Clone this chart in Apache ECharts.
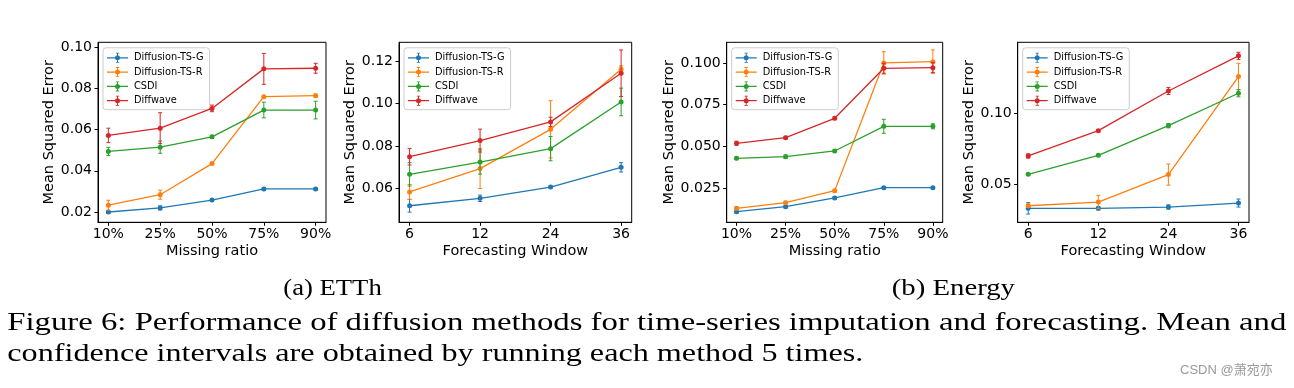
<!DOCTYPE html>
<html>
<head>
<meta charset="utf-8">
<script src="https://cdn.jsdelivr.net/npm/echarts@6/dist/echarts.min.js"></script>
<style>
html,body{margin:0;padding:0;background:#fff;}
#chart{width:1294px;height:388px;}
</style>
</head>
<body>
<div id="chart"></div>
<script>
// ---------------- data ----------------
const methods = ['Diffusion-TS-G', 'Diffusion-TS-R', 'CSDI', 'Diffwave'];
const missingRatio = ['10%', '25%', '50%', '75%', '90%'];
const forecastWindow = ['6', '12', '24', '36'];

// (a) ETTh – imputation (Missing ratio)
const ettImpG      = [0.0200, 0.0220, 0.0258, 0.0312, 0.0312];
const ettImpGErr   = [0.0006, 0.0010, 0.0005, 0.0006, 0.0005];
const ettImpR      = [0.0233, 0.0284, 0.0435, 0.0760, 0.0765];
const ettImpRErr   = [0.0024, 0.0022, 0.0004, 0.0005, 0.0008];
const ettImpCSDI   = [0.0494, 0.0515, 0.0565, 0.0695, 0.0695];
const ettImpCSDIErr= [0.0020, 0.0030, 0.0007, 0.0038, 0.0043];
const ettImpDW     = [0.0572, 0.0607, 0.0703, 0.0895, 0.0898];
const ettImpDWErr  = [0.0035, 0.0075, 0.0016, 0.0075, 0.0024];

// (a) ETTh – forecasting (Forecasting Window)
const ettFcG       = [0.0518, 0.0553, 0.0606, 0.0699];
const ettFcGErr    = [0.0030, 0.0015, 0.0005, 0.0022];
const ettFcR       = [0.0583, 0.0693, 0.0878, 0.1161];
const ettFcRErr    = [0.0035, 0.0094, 0.0135, 0.0016];
const ettFcCSDI    = [0.0666, 0.0724, 0.0787, 0.1007];
const ettFcCSDIErr = [0.0055, 0.0057, 0.0057, 0.0065];
const ettFcDW      = [0.0749, 0.0825, 0.0913, 0.1142];
const ettFcDWErr   = [0.0039, 0.0054, 0.0022, 0.0110];

// (b) Energy – imputation
const enImpG       = [0.0108, 0.0138, 0.0190, 0.0252, 0.0252];
const enImpGErr    = [0.0010, 0.0008, 0.0008, 0.0006, 0.0006];
const enImpR       = [0.0128, 0.0162, 0.0234, 0.1000, 0.1008];
const enImpRErr    = [0.0008, 0.0008, 0.0008, 0.0067, 0.0070];
const enImpCSDI    = [0.0428, 0.0438, 0.0472, 0.0620, 0.0620];
const enImpCSDIErr = [0.0008, 0.0010, 0.0008, 0.0042, 0.0015];
const enImpDW      = [0.0518, 0.0552, 0.0668, 0.0968, 0.0972];
const enImpDWErr   = [0.0012, 0.0008, 0.0008, 0.0030, 0.0030];

// (b) Energy – forecasting
const enFcG        = [0.0332, 0.0332, 0.0341, 0.0369];
const enFcGErr     = [0.0040, 0.0012, 0.0015, 0.0028];
const enFcR        = [0.0350, 0.0376, 0.0568, 0.1255];
const enFcRErr     = [0.0012, 0.0047, 0.0074, 0.0093];
const enFcCSDI     = [0.0570, 0.0703, 0.0911, 0.1138];
const enFcCSDIErr  = [0.0008, 0.0008, 0.0015, 0.0025];
const enFcDW       = [0.0699, 0.0876, 0.1154, 0.1400];
const enFcDWErr    = [0.0015, 0.0008, 0.0025, 0.0025];

// tick labels
const yTicks1 = [0.02, 0.04, 0.06, 0.08, 0.10];
const yTicks2 = [0.06, 0.08, 0.10, 0.12];
const yTicks3 = [0.025, 0.050, 0.075, 0.100];
const yTicks4 = [0.05, 0.10];

const xTitle1 = 'Missing ratio';
const xTitle2 = 'Forecasting Window';
const yTitle = 'Mean Squared Error';

const subCaptionA = '(a) ETTh';
const subCaptionB = '(b) Energy';
const captionLine1 = 'Figure 6: Performance of diffusion methods for time-series imputation and forecasting. Mean and';
const captionLine2 = 'confidence intervals are obtained by running each method 5 times.';
const watermark = 'CSDN @萧宛亦';

// ---------------- layout / style ----------------
const colors = ['#1f77b4', '#ff7f0e', '#2ca02c', '#d62728'];
const panels = [
  { cats: missingRatio, vals: [ettImpG, ettImpR, ettImpCSDI, ettImpDW], errs: [ettImpGErr, ettImpRErr, ettImpCSDIErr, ettImpDWErr],
    yTicks: yTicks1, dec: 2, xTitle: xTitle1, grid: { left: 98, top: 42.3, width: 228, height: 180 }, yMin: 0.015, yMax: 0.1024, pad: 0.2, yGap: 35 },
  { cats: forecastWindow, vals: [ettFcG, ettFcR, ettFcCSDI, ettFcDW], errs: [ettFcGErr, ettFcRErr, ettFcCSDIErr, ettFcDWErr],
    yTicks: yTicks2, dec: 2, xTitle: xTitle2, grid: { left: 399, top: 42.3, width: 232.7, height: 180 }, yMin: 0.044, yMax: 0.1288, pad: 0.15, yGap: 35 },
  { cats: missingRatio, vals: [enImpG, enImpR, enImpCSDI, enImpDW], errs: [enImpGErr, enImpRErr, enImpCSDIErr, enImpDWErr],
    yTicks: yTicks3, dec: 3, xTitle: xTitle1, grid: { left: 726.7, top: 42.3, width: 216, height: 180 }, yMin: 0.0044, yMax: 0.1124, pad: 0.2, yGap: 46 },
  { cats: forecastWindow, vals: [enFcG, enFcR, enFcCSDI, enFcDW], errs: [enFcGErr, enFcRErr, enFcCSDIErr, enFcDWErr],
    yTicks: yTicks4, dec: 2, xTitle: xTitle2, grid: { left: 1017.7, top: 42.3, width: 231.3, height: 180 }, yMin: 0.0234, yMax: 0.1495, pad: 0.15, yGap: 35 }
];

const sans = '"DejaVu Sans", sans-serif';
const serif = '"Liberation Serif", "Times New Roman", serif';
const legendIcon = 'path://M0,4.4H21V5.6H0Z M10,0.3H11V9.7H10Z M8.8,0H12.2V0.8H8.8Z M8.8,9.2H12.2V10H8.8Z M13,5A2.5,2.5,0,1,1,8,5A2.5,2.5,0,1,1,13,5Z';

function errorBarRender(params, api) {
  const x = api.value(0);
  const lo = api.coord([x, api.value(1)]);
  const hi = api.coord([x, api.value(2)]);
  const color = api.visual('color');
  const cw = 2;
  const st = { stroke: color, lineWidth: 1 };
  return {
    type: 'group',
    children: [
      { type: 'line', shape: { x1: lo[0], y1: lo[1], x2: hi[0], y2: hi[1] }, style: st },
      { type: 'line', shape: { x1: lo[0] - cw, y1: lo[1], x2: lo[0] + cw, y2: lo[1] }, style: st },
      { type: 'line', shape: { x1: hi[0] - cw, y1: hi[1], x2: hi[0] + cw, y2: hi[1] }, style: st }
    ]
  };
}

const grids = [], xAxes = [], yAxes = [], series = [], legends = [];
panels.forEach((p, i) => {
  grids.push(Object.assign({ show: true, borderColor: '#000', borderWidth: 1, backgroundColor: 'transparent' }, p.grid));
  const idx = p.cats.map((c, k) => k);
  xAxes.push({
    type: 'value', gridIndex: i, min: -p.pad, max: p.cats.length - 1 + p.pad,
    name: p.xTitle, nameLocation: 'middle', nameGap: 21,
    nameTextStyle: { fontFamily: sans, fontSize: 14.5, color: '#000' },
    axisLine: { show: true, onZero: false, lineStyle: { color: '#000', width: 1 } },
    axisTick: { show: true, length: 3.5, lineStyle: { color: '#000' }, customValues: idx },
    axisLabel: { show: true, margin: 5, fontFamily: sans, fontSize: 14, color: '#000', customValues: idx,
      formatter: v => p.cats[Math.round(v)] },
    splitLine: { show: false }
  });
  yAxes.push({
    type: 'value', gridIndex: i, min: p.yMin, max: p.yMax,
    name: yTitle, nameLocation: 'middle', nameGap: p.yGap,
    nameTextStyle: { fontFamily: sans, fontSize: 14.5, color: '#000' },
    axisLine: { show: true, onZero: false, lineStyle: { color: '#000', width: 1 } },
    axisTick: { show: true, length: 3.5, lineStyle: { color: '#000' }, customValues: p.yTicks },
    axisLabel: { show: true, margin: 6, fontFamily: sans, fontSize: 14, color: '#000', customValues: p.yTicks,
      formatter: v => v.toFixed(p.dec) },
    splitLine: { show: false }
  });
  methods.forEach((m, j) => {
    const vals = p.vals[j], errs = p.errs[j];
    series.push({
      type: 'custom', name: m, xAxisIndex: i, yAxisIndex: i,
      itemStyle: { color: colors[j] }, z: 2 + j * 2,
      encode: { x: 0, y: [1, 2] },
      data: vals.map((v, k) => [k, v - errs[k], v + errs[k]]),
      renderItem: errorBarRender
    });
    series.push({
      type: 'line', name: m, xAxisIndex: i, yAxisIndex: i,
      data: vals.map((v, k) => [k, v]),
      symbol: 'circle', symbolSize: 5, showSymbol: true,
      lineStyle: { color: colors[j], width: 1.3 },
      itemStyle: { color: colors[j], borderWidth: 0 },
      z: 3 + j * 2
    });
  });
  legends.push({
    orient: 'vertical', left: p.grid.left + 5, top: p.grid.top + 5.5,
    padding: [5, 6, 4, 4], itemGap: 4.3, itemWidth: 21, itemHeight: 10,
    borderColor: '#cccccc', borderWidth: 1, borderRadius: 3, backgroundColor: 'rgba(255,255,255,0.85)',
    textStyle: { fontFamily: sans, fontSize: 9.8, color: '#000', padding: [0, 0, 0, 1] },
    itemStyle: { borderWidth: 0 },
    selectedMode: false,
    data: methods.map((m, j) => ({ name: m, icon: legendIcon, itemStyle: { color: colors[j], borderWidth: 0 } }))
  });
});

// captions – stretched horizontally to match the reference
const ctx = document.createElement('canvas').getContext('2d');
function textWidth(t, size, fam) { ctx.font = size + 'px ' + fam; return ctx.measureText(t).width; }
function capText(t, x, y, size, width) {
  const s = width / textWidth(t, size, serif);
  return { type: 'text', x: x, y: y, scaleX: s, scaleY: 1, silent: true,
    style: { text: t, font: size + 'px ' + serif, fill: '#000', align: 'left', verticalAlign: 'middle' } };
}
const graphics = [
  capText(subCaptionA, 283.3, 289, 23, 98.4),
  capText(subCaptionB, 891.7, 289, 23, 123.3),
  capText(captionLine1, 7.3, 323.5, 25.5, 1279),
  capText(captionLine2, 7.3, 354.5, 25.5, 856),
  { type: 'text', x: 1180, y: 370, silent: true,
    style: { text: watermark, fontFamily: '"Liberation Sans", "Noto Sans CJK SC", sans-serif', fontSize: 13, fill: '#9a9a9a', align: 'left', verticalAlign: 'middle' } }
];

const chart = echarts.init(document.getElementById('chart'), null, { renderer: 'canvas' });
chart.setOption({
  animation: false,
  backgroundColor: '#fff',
  grid: grids, xAxis: xAxes, yAxis: yAxes,
  legend: legends,
  series: series,
  graphic: graphics
});
</script>
</body>
</html>
